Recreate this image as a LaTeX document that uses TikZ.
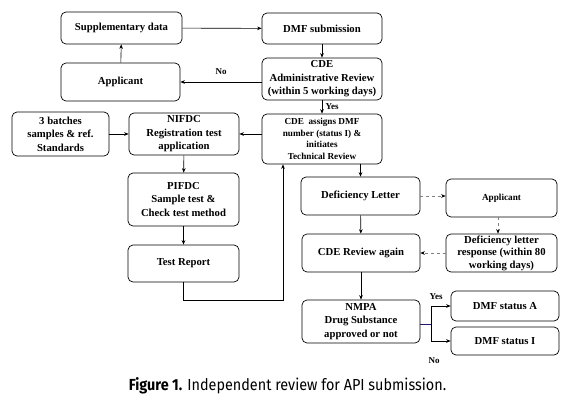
\documentclass[tikz,border=0pt]{standalone}
\usepackage{fontspec}
\setmainfont{Liberation Serif}
\newfontfamily\capfont[FakeStretch=0.9]{Fira Sans}
\usetikzlibrary{arrows.meta, positioning}
\tikzstyle{process} = [rectangle, draw, rounded corners=5pt, align=center,
                       line width=0.7pt, inner sep=1pt,
                       font=\bfseries\fontsize{10.7}{13.5}\selectfont]
\tikzstyle{small} = [font=\bfseries\fontsize{9.2}{11.5}\selectfont]
\tikzstyle{arrow} = [line width=0.6pt,->,>={Stealth[length=4.5pt,width=3.6pt]}]
\tikzstyle{dasharrow} = [line width=0.6pt, dashed, draw=gray,
                         -{Stealth[length=4.5pt,width=3.6pt,color=black]}]
\tikzstyle{lbl} = [font=\bfseries\fontsize{9}{10}\selectfont]

\begin{document}
\begin{tikzpicture}[x=1pt, y=-1pt]
\useasboundingbox (0,0) rectangle (572,407);
% left column
\node [process, minimum width=121pt, minimum height=32pt] at (121.5,28) (supp)
	{Supplementary data};
\node [process, minimum width=119pt, minimum height=38pt] at (120.5,82) (applicant)
	{Applicant};
\node [process, minimum width=97pt, minimum height=44pt] at (60.5,134) (batches)
	{3 batches\\samples \& ref.\\Standards};
\node [process, minimum width=110pt, minimum height=42pt] at (184,134) (nifdc)
	{NIFDC\\Registration test\\application};
\node [process, minimum width=111pt, minimum height=53pt] at (183.5,199.5) (pifdc)
	{PIFDC\\Sample test \&\\Check test method};
\node [process, minimum width=111pt, minimum height=37pt] at (183.5,263.5) (report)
	{Test Report};
% middle column
\node [process, minimum width=120pt, minimum height=31pt] at (322,28.5) (dmf)
	{DMF submission};
\node [process, minimum width=120pt, minimum height=42pt] at (322,79) (admin)
	{CDE\\Administrative Review\\(within 5 working days)};
\node [process, small, minimum width=120pt, minimum height=50pt] at (322,139) (assign)
	{CDE\ \ assigns DMF\\number (status I) \&\\initiates\\Technical Review};
\node [process, minimum width=119pt, minimum height=38pt] at (360.5,196) (letter)
	{Deficiency Letter};
\node [process, minimum width=118pt, minimum height=38pt] at (361,253) (again)
	{CDE Review again};
\node [process, minimum width=118pt, minimum height=43pt] at (361,321.5) (nmpa)
	{NMPA\\Drug Substance\\approved or not};
% right column
\node [process, small, minimum width=111pt, minimum height=38pt] at (501.5,198)
	(applicant_r) {Applicant};
\node [process, font=\bfseries\fontsize{10.7}{12.5}\selectfont, minimum width=111pt,
	minimum height=38pt] at (501.5,253)
	(response) {Deficiency letter\\response (within 80\\working days)};
\node [process, minimum width=108pt, minimum height=30pt] at (505,306)
	(status_a) {DMF status A};
\node [process, minimum width=108pt, minimum height=28pt] at (505,341)
	(status_i) {DMF status I};
\coordinate (loop) at (283,300);
\coordinate (branch) at (431,324);
% connectors
\draw [arrow] (supp) -- (dmf);
\draw [arrow] (dmf) -- (admin);
\draw [arrow] (admin.west |- applicant.east) -- node[lbl, above=4pt] {No}
	(applicant.east);
\draw [arrow] (applicant) -- (supp);
\draw [arrow] (admin) -- node[lbl, right] {Yes} (assign);
\draw [arrow] (assign.west |- nifdc.east) -- (nifdc.east);
\draw [arrow] (batches.east |- nifdc.west) -- (nifdc.west);
\draw [arrow] (nifdc) -- (pifdc);
\draw [arrow] (pifdc) -- (report);
\draw [arrow] (report.south) |- (loop) -- (loop |- assign.south);
\draw [arrow] (letter.north |- assign.south) -- (letter.north);
\draw [dasharrow] (letter.east) -- (applicant_r.west |- letter.east);
\draw [dasharrow] (applicant_r.south -| 498,0) -- (response.north -| 498,0);
\draw [dasharrow] (response.west) -- (again.east);
\draw [arrow] (letter) -- (again);
\draw [arrow] (again) -- (nmpa);
\draw [line width=0.6pt, draw={rgb,255:red,40;green,20;blue,110}]
	(nmpa.east |- branch) -- (branch);
\draw [arrow] (branch) |- node[lbl, pos=0.5, above=3pt, xshift=5pt] {Yes}
	(status_a.west);
\draw [arrow] (branch) |- node[lbl, pos=0.5, below=13pt, xshift=3pt] {No}
	(status_i.west);
% caption
\node (caption) at (287.5,386)
	{\capfont\fontsize{16}{18}\selectfont\textbf{Figure 1.} Independent review for API submission.};
\end{tikzpicture}
\end{document}
